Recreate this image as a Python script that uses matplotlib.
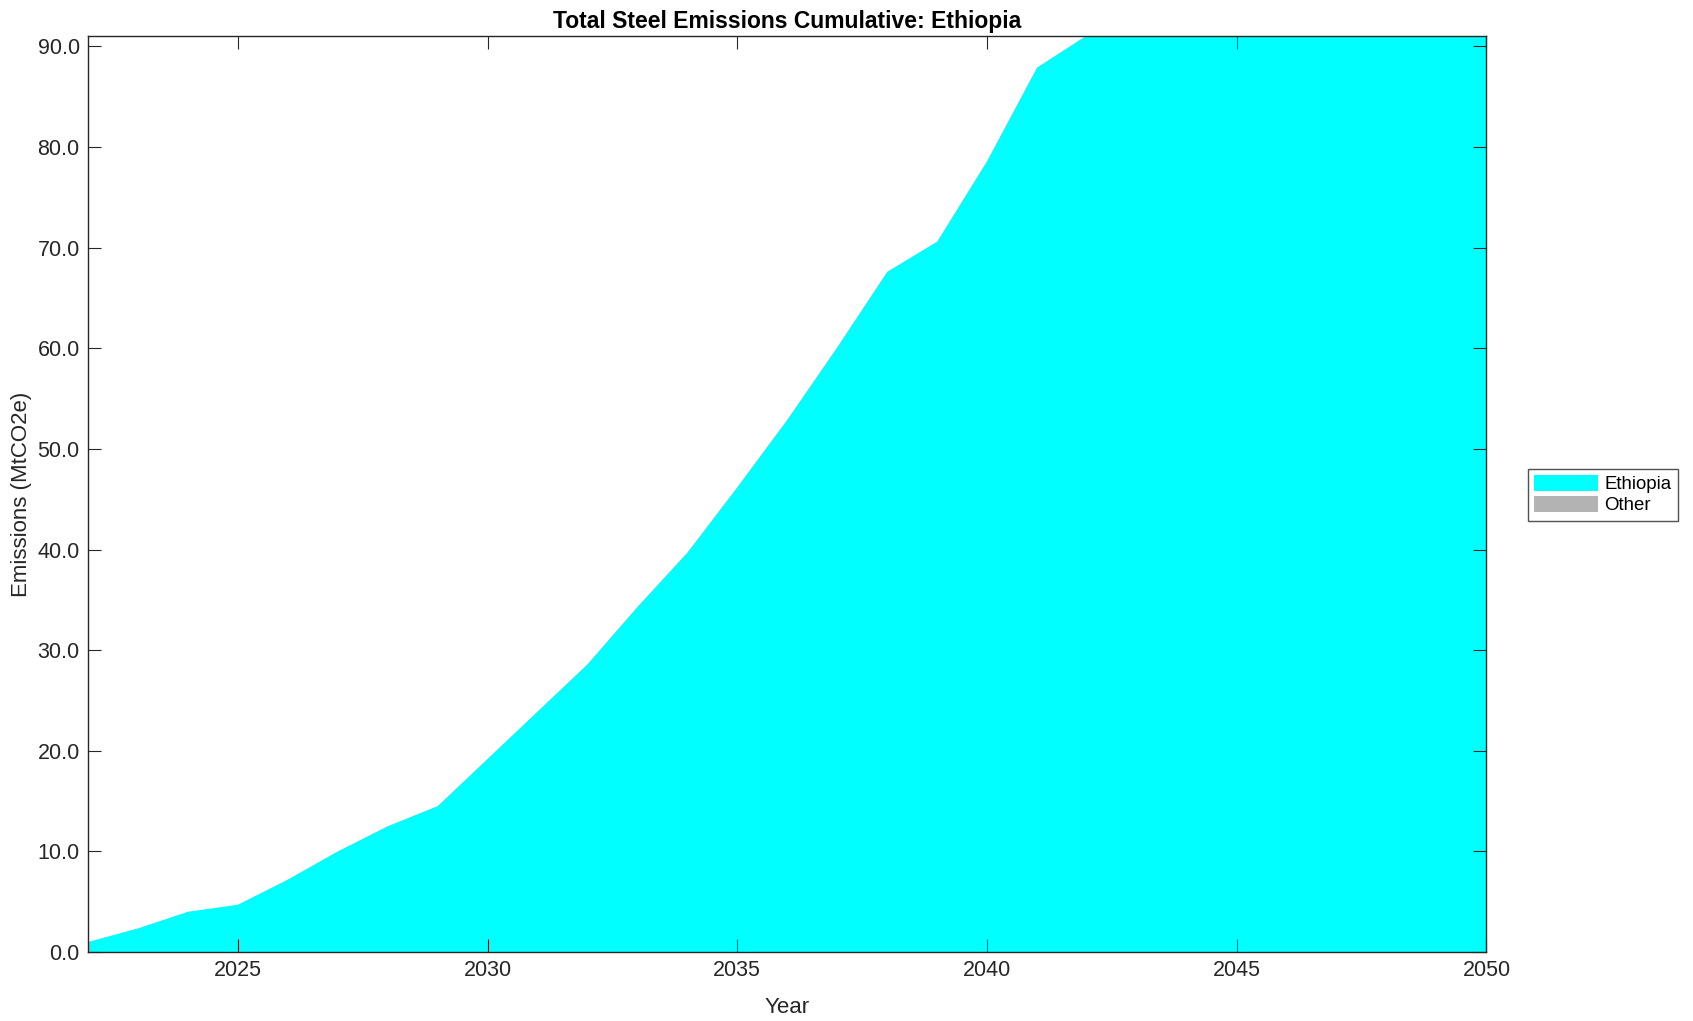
import matplotlib
matplotlib.use("Agg")
import matplotlib.pyplot as plt
from matplotlib.patches import Patch

plt.rcParams['font.family'] = ['Liberation Sans', 'DejaVu Sans']

years = list(range(2022, 2051))
ethiopia = [1.0, 2.35, 4.0, 4.7, 7.2, 10.0, 12.5, 14.5, 19.2, 23.9, 28.6, 34.3, 39.7,
            46.2, 52.9, 60.1, 67.6, 70.6, 78.6, 87.9, 91.1, 100.5, 110.0, 119.3,
            128.8, 138.1, 147.5, 156.6, 165.9]
other = [0.0] * len(years)
series_labels = ["Ethiopia", "Other"]
series_colors = ["#00ffff", "#b3b3b3"]
xticks = [2025, 2030, 2035, 2040, 2045, 2050]
yticks = [0, 10, 20, 30, 40, 50, 60, 70, 80, 90]

fig = plt.figure(figsize=(16.93, 10.21), dpi=100)
ax = fig.add_axes([0.052, 0.0676, 0.826, 0.8968])

ax.stackplot(years, ethiopia, other, colors=series_colors, labels=series_labels,
             edgecolor='none', linewidth=0)

ax.set_xlim(2022, 2050)
ax.set_ylim(0, 91.0)
ax.set_xticks(xticks)
ax.set_yticks(yticks)
ax.set_yticklabels([f"{v:.1f}" for v in yticks])

ax.tick_params(direction='in', length=9.4, width=0.8, top=True, right=True,
               labelsize=15.5, colors='#262626', labelcolor='#262626', pad=6)
for s in ax.spines.values():
    s.set_color('#262626')
    s.set_linewidth(1.0)

ax.set_title("Total Steel Emissions Cumulative: Ethiopia", fontsize=16.5,
             fontweight='bold', color='black', pad=6)
ax.set_xlabel("Year", fontsize=16, color='#262626', labelpad=11)
ax.set_ylabel("Emissions (MtCO2e)", fontsize=16, color='#262626', labelpad=4)

handles = [Patch(facecolor=c, edgecolor='none') for c in series_colors]
leg = fig.legend(handles, series_labels, loc='center left',
                 bbox_to_anchor=(0.9024, 0.5154), fontsize=13.4,
                 frameon=True, fancybox=False, edgecolor='#262626',
                 handlelength=3.4, handleheight=0.9, handletextpad=0.35,
                 labelspacing=0.15, borderpad=0.35, borderaxespad=0)
leg.get_frame().set_linewidth(1.0)

fig.savefig("out.png", dpi=100, facecolor='white')
